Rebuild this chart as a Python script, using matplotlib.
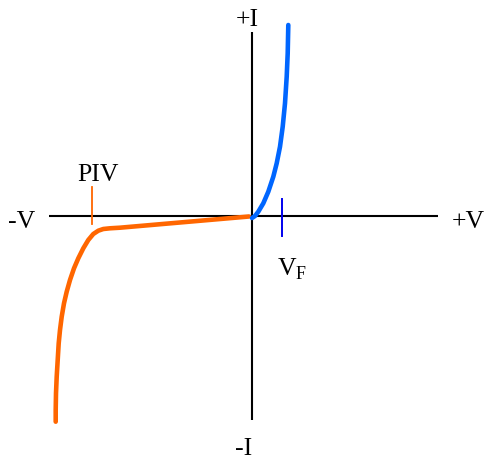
import numpy as np
import matplotlib
matplotlib.use("Agg")
import matplotlib.pyplot as plt

# diode I-V characteristic, arbitrary units (1 unit = 10 px)
# forward bias branch (blue)
fwd_v = [0.0, 0.3, 0.63, 1.13, 1.63, 2.13, 2.47, 2.8, 3.07, 3.3, 3.47, 3.57, 3.63]
fwd_i = [-0.2, 0.0, 0.43, 1.27, 2.43, 3.93, 5.27, 6.93, 8.93, 11.27, 13.93, 16.27, 19.1]

# reverse bias branch (orange), leakage then breakdown
rev_v = [-0.3, -13.2, -14.2, -14.87, -15.37, -15.87, -16.37, -16.87, -17.37, -17.8,
         -18.2, -18.53, -18.8, -19.03, -19.2, -19.33, -19.43, -19.53, -19.6, -19.63, -19.63]
rev_i = [-0.05, -1.17, -1.23, -1.3, -1.47, -1.8, -2.4, -3.23, -4.23, -5.23,
         -6.4, -7.57, -8.73, -10.07, -11.4, -12.73, -14.4, -16.07, -17.73, -19.4, -20.57]

piv_v = -16.0
vf_v = 3.0

x_range = (-20.3, 18.6)
y_range = (-20.4, 18.4)

fig = plt.figure(figsize=(4.85, 4.59), dpi=100)
ax = fig.add_axes([0, 0, 1, 1])
ax.set_xlim(-25.2, 23.3)
ax.set_ylim(-24.3, 21.6)
ax.axis("off")

# axes cross
ax.plot(x_range, [0, 0], color="black", lw=1.5, solid_capstyle="butt")
ax.plot([0, 0], y_range, color="black", lw=1.5, solid_capstyle="butt")

# markers for PIV and VF
ax.plot([piv_v, piv_v], [2.9, -0.8], color="#ff6600", lw=1.3)
ax.plot([vf_v, vf_v], [1.7, -2.0], color="#0000ee", lw=1.4)

ax.plot(rev_v, rev_i, color="#ff6600", lw=3.3, solid_capstyle="round", solid_joinstyle="round")
ax.plot(fwd_v, fwd_i, color="#0066ff", lw=3.3, solid_capstyle="round", solid_joinstyle="round")

font = dict(family="Liberation Serif", fontsize=18.5, va="baseline")
ax.text(-0.5, 19.0, "+I", ha="center", **font)
ax.text(-0.8, -23.9, "-I", ha="center", **font)
ax.text(-24.4, -1.23, "-V", ha="left", **font)
ax.text(20.0, -1.23, "+V", ha="left", **font)
ax.text(-17.43, 3.53, "PIV", ha="left", **font)
# subscript as one text object
ax.text(2.47, -5.97, r"V$_\mathregular{F}$", ha="left", **font)

fig.savefig("out.png", dpi=100)
